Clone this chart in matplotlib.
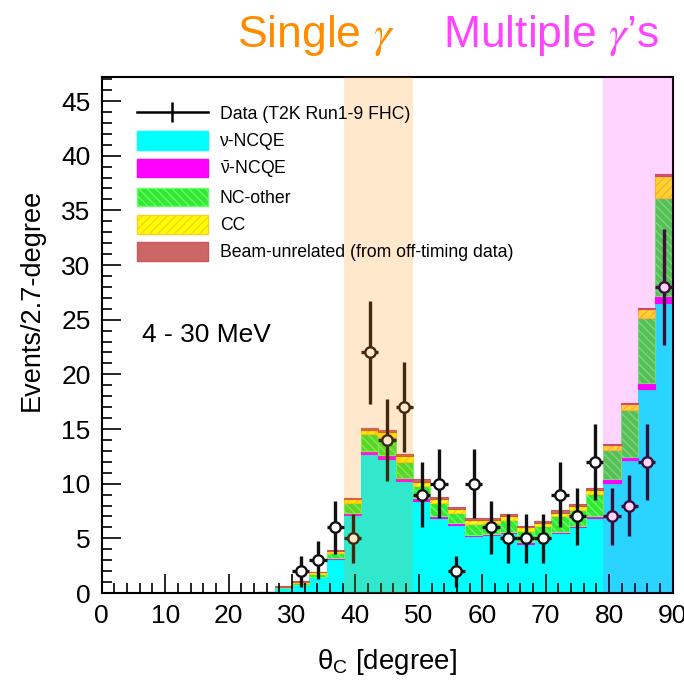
import numpy as np
import matplotlib
matplotlib.use('Agg')
import matplotlib.pyplot as plt
from matplotlib.patches import Patch
from matplotlib.lines import Line2D

plt.rcParams['font.family'] = ['Liberation Sans', 'DejaVu Sans']
plt.rcParams['mathtext.fontset'] = 'custom'
plt.rcParams['mathtext.rm'] = 'Liberation Sans'
plt.rcParams['mathtext.it'] = 'Liberation Sans:italic'
plt.rcParams['hatch.linewidth'] = 1.0

# 33 bins of 90/33 degree between 0 and 90
bin_edges = np.linspace(0, 90, 34)

# stacked MC components (bins 0..32)
nu_ncqe = [0, 0, 0, 0, 0, 0, 0, 0, 0, 0.05, 0.42, 0.70, 1.45, 3.10, 7.10, 12.7, 12.3,
           10.25, 8.40, 6.85, 6.20, 5.20, 5.30, 5.45, 4.50, 5.00, 5.45, 6.00, 6.85,
           10.1, 12.2, 18.7, 26.5]
nubar_ncqe = [0, 0, 0, 0, 0, 0, 0, 0, 0, 0.0, 0.02, 0.03, 0.05, 0.08, 0.20, 0.30, 0.30,
              0.25, 0.25, 0.20, 0.20, 0.10, 0.10, 0.15, 0.20, 0.15, 0.15, 0.15, 0.15,
              0.30, 0.25, 0.50, 0.67]
nc_other = [0, 0, 0, 0, 0, 0, 0, 0, 0, 0.04, 0.08, 0.15, 0.25, 0.45, 0.95, 1.50, 1.70,
            1.50, 1.15, 1.20, 0.90, 1.00, 1.00, 1.05, 1.00, 0.95, 1.40, 1.45, 2.10,
            2.70, 4.30, 6.00, 9.00]
cc = [0, 0, 0, 0, 0, 0, 0, 0, 0, 0.03, 0.06, 0.13, 0.15, 0.25, 0.35, 0.40, 0.40,
      0.50, 0.40, 0.35, 0.35, 0.35, 0.30, 0.35, 0.30, 0.30, 0.35, 0.35, 0.35,
      0.40, 0.50, 0.75, 2.00]
beam_unrelated = [0, 0, 0, 0, 0, 0, 0, 0, 0, 0.0, 0.02, 0.05, 0.06, 0.08, 0.10, 0.20, 0.20,
                  0.20, 0.20, 0.20, 0.20, 0.20, 0.20, 0.20, 0.15, 0.15, 0.20, 0.15, 0.15,
                  0.10, 0.10, 0.10, 0.15]

# observed data
data = [0, 0, 0, 0, 0, 0, 0, 0, 0, 0, 0, 2, 3, 6, 5, 22, 14, 17, 9, 10, 2, 10, 6, 5,
        5, 5, 9, 7, 12, 7, 8, 12, 28]

width = bin_edges[1] - bin_edges[0]
left = bin_edges[:-1]
centers = left + width / 2

fig = plt.figure(figsize=(6.84, 6.80), dpi=100)
ax = fig.add_axes([0.1487, 0.1279, 0.8346, 0.7589])

components = [
    (nu_ncqe, '#00ffff', '#00ffff', None),
    (nubar_ncqe, '#ff00ff', '#ff00ff', None),
    (nc_other, '#33e833', '#66ff66', '\\\\\\\\'),
    (cc, '#ffff00', '#ffcc22', '////'),
    (beam_unrelated, '#cc6666', '#cc5555', None),
]
bottom = np.zeros(len(left))
for vals, fc, ec, hatch in components:
    vals = np.array(vals)
    ax.bar(left, vals, width=width, bottom=bottom, align='edge', color=fc,
           edgecolor=ec, hatch=hatch, linewidth=0.8, zorder=1)
    bottom = bottom + vals

# data points
data = np.array(data, dtype=float)
m = data > 0
ax.errorbar(centers[m], data[m], yerr=np.sqrt(data[m]), xerr=width / 2,
            fmt='o', color='#111111', mfc='white', mec='#111111', ms=7.5, mew=1.7,
            elinewidth=2.4, capsize=0, zorder=3)

# signal regions
ax.axvspan(bin_edges[14], bin_edges[18], color='#ff8c00', alpha=0.2, lw=0, zorder=4)
ax.axvspan(bin_edges[29], bin_edges[33], color='#ff00ff', alpha=0.17, lw=0, zorder=4)

ax.set_xlim(0, 90)
ax.set_ylim(0, 47.2)
ax.set_xticks(np.arange(0, 91, 10))
ax.set_xticks(np.arange(0, 91, 2), minor=True)
ax.set_yticks(np.arange(0, 46, 5))
ax.set_yticks(np.arange(0, 48, 1), minor=True)
ax.tick_params(which='both', direction='in', top=False, right=False, width=1.2,
               labelsize=19)
ax.tick_params(which='major', length=14, pad=8)
ax.tick_params(which='minor', length=7)
for s in ax.spines.values():
    s.set_linewidth(1.5)

ax.set_ylabel('Events/2.7-degree', fontsize=19.5)
ax.yaxis.set_label_coords(-0.10, 0.568)
ax.set_xlabel(r'$\mathrm{\theta_C}$ [degree]', fontsize=20)
ax.xaxis.set_label_coords(0.5, -0.105)

ax.text(0.07, 0.5, '4 - 30 MeV', transform=ax.transAxes, fontsize=19,
        va='center', ha='left')

fig.text(237 / 684, 1 - 47 / 680, r'Single $\gamma$', color='#ff8c00',
         fontsize=32, ha='left', va='baseline', math_fontfamily='stix')
fig.text(443 / 684, 1 - 47 / 680, r'Multiple $\gamma$’s', color='#ff44ff',
         fontsize=32, ha='left', va='baseline', math_fontfamily='stix')

handles = [
    Line2D([], [], color='black', lw=1.8, marker='|', ms=14, mew=1.8),
    Patch(facecolor='#00ffff', edgecolor='#00ffff'),
    Patch(facecolor='#ff00ff', edgecolor='#ff00ff'),
    Patch(facecolor='#33e833', edgecolor='#66ff66', hatch='\\\\\\\\'),
    Patch(facecolor='#ffff00', edgecolor='#ffcc22', hatch='////'),
    Patch(facecolor='#cc6666', edgecolor='#cc5555'),
]
labels = ['Data (T2K Run1-9 FHC)', 'ν-NCQE', r'$\bar{\mathrm{\nu}}$-NCQE',
          'NC-other', 'CC', 'Beam-unrelated (from off-timing data)']
leg = ax.legend(handles, labels, loc='upper left',
                bbox_to_anchor=(137 / 684, 1 - 104 / 680),
                bbox_transform=fig.transFigure, frameon=False, fontsize=12.7,
                handlelength=4.0, handleheight=1.25, handletextpad=0.7,
                labelspacing=0.45, borderpad=0, borderaxespad=0)
leg.set_zorder(5)

fig.savefig('out.png', dpi=100)
